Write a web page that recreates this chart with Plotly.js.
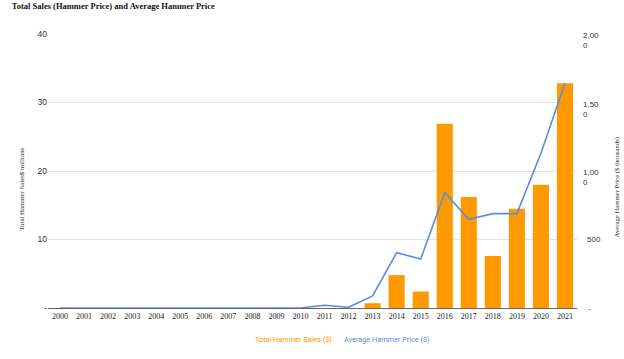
<!DOCTYPE html>
<html><head><meta charset="utf-8">
<script src="https://cdn.plot.ly/plotly-3.0.1.min.js"></script>
<style>body{margin:0;background:#fff}#c{width:624px;height:359px}</style>
</head><body><div id="c"></div>
<script>
const years = ['2000','2001','2002','2003','2004','2005','2006','2007','2008','2009','2010','2011','2012','2013','2014','2015','2016','2017','2018','2019','2020','2021'];
const totalSales = [0,0,0,0,0,0,0,0,0,0,0,0,0,0.7,4.8,2.4,26.9,16.2,7.6,14.5,18.0,32.8];
const avgPrice = [0,0,0,0,0,0,0,0,0,0,0,20,5,88,404,357,842,647,689,689,1129,1640];
const leftTickVals = [0,10,20,30,40];
const leftTickText = ['-','10','20','30','40'];
const rightTickVals = [0,500,1000,1500,2000];
const rightTickText = ['-','500','1,00<br>0','1,50<br>0','2,00<br>0'];

const orange = '#FF9900', blue = '#5B8CE0';
const data = [
  {type:'bar', x:years, y:totalSales, name:'Total Hammer Sales ($)', marker:{color:orange}, yaxis:'y', hoverinfo:'none'},
  {type:'scatter', mode:'lines', x:years, y:avgPrice, name:'Average Hammer Price ($)', line:{color:blue, width:1.6}, yaxis:'y2', hoverinfo:'none'}
];
const serif = 'Liberation Serif', sans = 'Liberation Sans';
const annotations = [];
rightTickVals.forEach((v,i)=>{
  const t = rightTickText[i];
  const multi = t.indexOf('<br>')>=0;
  annotations.push({text:t, x:1, xref:'paper', y:v, yref:'y2', xanchor:'left', yanchor:multi?'top':'middle', align:'left',
    xshift: multi?4:(t==='-'?9:8), yshift: multi?5:0, showarrow:false, font:{family:sans, size:8, color:'#333'}});
});
annotations.push(
  {text:'Total Hammer Sales$ millions', textangle:-90, x:0, xref:'paper', xshift:-32, y:0.434, yref:'paper', showarrow:false, font:{family:serif, size:6.8, color:'#333'}},
  {text:'Average Hammer Price ($ thousands)', textangle:-90, x:1, xref:'paper', xshift:46, y:0.44, yref:'paper', showarrow:false, font:{family:serif, size:6.7, color:'#333'}},
  {text:'Total Hammer Sales ($)', x:0.541, xref:'paper', y:-0.115, yref:'paper', xanchor:'right', yanchor:'middle', showarrow:false, font:{family:'Roboto', size:7.3, color:orange}},
  {text:'Average Hammer Price ($)', x:0.556, xref:'paper', y:-0.115, yref:'paper', xanchor:'left', yanchor:'middle', showarrow:false, font:{family:'Roboto', size:7.3, color:blue}}
);

const layout = {
  width:624, height:359,
  margin:{l:48, r:47, t:34, b:51},
  paper_bgcolor:'#fff', plot_bgcolor:'#fff',
  showlegend:false,
  bargap:0.33,
  title:{text:'<b>Total Sales (Hammer Price) and Average Hammer Price</b>', font:{family:serif, size:8.5, color:'#111'}, x:0.019, xanchor:'left', y:0.992, yanchor:'top'},
  xaxis:{type:'category', tickfont:{family:serif, size:8, color:'#222'}, showgrid:false, showline:true, linecolor:'#666', linewidth:1, ticks:'', fixedrange:true},
  yaxis:{range:[0,40], tickvals:leftTickVals, ticktext:leftTickText, tickfont:{family:sans, size:8.5, color:'#333'}, gridcolor:'#e3e3e3', zeroline:false, showline:false, ticks:''},
  yaxis2:{range:[0,2000], overlaying:'y', side:'right', showticklabels:false, showgrid:false, zeroline:false, showline:false, ticks:''},
  annotations:annotations
};
Plotly.newPlot('c', data, layout, {displayModeBar:false, staticPlot:true});
</script></body></html>
